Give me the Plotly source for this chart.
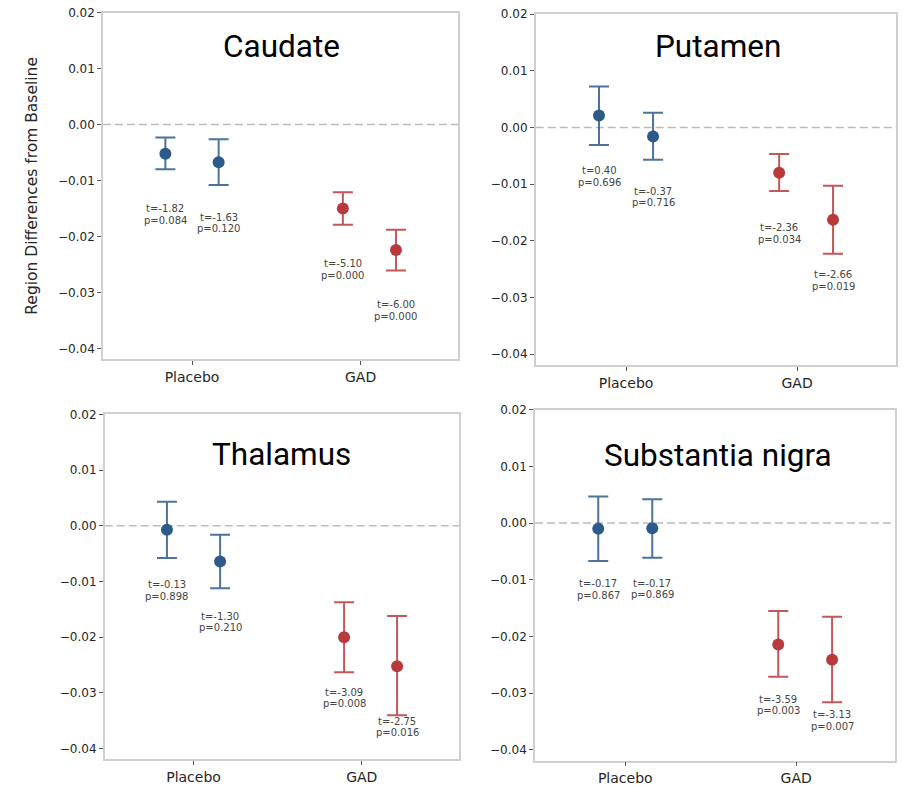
import plotly.graph_objects as go

# ---------------- data ----------------
regions = ["Caudate", "Putamen", "Thalamus", "Substantia nigra"]
groups = ["Placebo", "GAD"]
group_of_point = [0, 0, 1, 1]

caudate_mean = [-0.0052, -0.00675, -0.0150, -0.0224]
caudate_lower = [-0.0080, -0.0108, -0.0179, -0.0261]
caudate_upper = [-0.0023, -0.0026, -0.0121, -0.0188]
caudate_t = ["-1.82", "-1.63", "-5.10", "-6.00"]
caudate_p = ["0.084", "0.120", "0.000", "0.000"]

putamen_mean = [0.0021, -0.0016, -0.0080, -0.0163]
putamen_lower = [-0.0031, -0.0057, -0.0112, -0.0223]
putamen_upper = [0.0072, 0.0026, -0.0047, -0.0103]
putamen_t = ["0.40", "-0.37", "-2.36", "-2.66"]
putamen_p = ["0.696", "0.716", "0.034", "0.019"]

thalamus_mean = [-0.0007, -0.0064, -0.0200, -0.0252]
thalamus_lower = [-0.0058, -0.0112, -0.0263, -0.0340]
thalamus_upper = [0.0043, -0.0016, -0.0137, -0.0162]
thalamus_t = ["-0.13", "-1.30", "-3.09", "-2.75"]
thalamus_p = ["0.898", "0.210", "0.008", "0.016"]

sn_mean = [-0.0010, -0.0009, -0.0214, -0.0241]
sn_lower = [-0.0067, -0.0061, -0.0271, -0.0316]
sn_upper = [0.0047, 0.0042, -0.0155, -0.0165]
sn_t = ["-0.17", "-0.17", "-3.59", "-3.13"]
sn_p = ["0.867", "0.869", "0.003", "0.007"]

ytick_values = [-0.04, -0.03, -0.02, -0.01, 0.00, 0.01, 0.02]
ytick_labels = ["\u22120.04", "\u22120.03", "\u22120.02", "\u22120.01", "0.00", "0.01", "0.02"]
y_axis_title = "Region Differences from Baseline"

panel_data = [
    (caudate_mean, caudate_lower, caudate_upper, caudate_t, caudate_p),
    (putamen_mean, putamen_lower, putamen_upper, putamen_t, putamen_p),
    (thalamus_mean, thalamus_lower, thalamus_upper, thalamus_t, thalamus_p),
    (sn_mean, sn_lower, sn_upper, sn_t, sn_p),
]

# ---------------- layout / style ----------------
W, H = 907, 785
# plot boxes in pixels: left, right, top, bottom
boxes = [
    (103, 458, 12.7, 359),
    (535.7, 896, 14, 365),
    (104.7, 459, 414.3, 759.3),
    (535, 895, 409.7, 760.7),
]
title_px = [(281.7, 47), (718.3, 46.7), (281.7, 454.3), (718.3, 455)]
ytitle_px = (31.7, 186)
dodge = [-0.158, 0.158, -0.105, 0.21]
xrange_ = [-0.528, 1.578]
yrange_ = [-0.0419, 0.02]

group_color = ["#2c5b8a", "#b93a3d"]
err_color = ["rgba(44,91,138,0.85)", "rgba(185,58,61,0.85)"]
tick_font = "DejaVu Sans"

fig = go.Figure()
layout_axes = {}
annotations = []
shapes = []

for i, (region, (mean, lo, up, tv, pv)) in enumerate(zip(regions, panel_data)):
    k = "" if i == 0 else str(i + 1)
    xa, ya = "x" + k, "y" + k
    L, R, T, B = boxes[i]
    for g in range(2):
        idx = [j for j in range(4) if group_of_point[j] == g]
        xs = [group_of_point[j] + dodge[j] for j in idx]
        ys = [mean[j] for j in idx]
        fig.add_trace(go.Scatter(
            x=xs, y=ys, mode="markers", xaxis=xa, yaxis=ya, showlegend=False,
            marker=dict(size=12, color=group_color[g]),
            error_y=dict(type="data", symmetric=False,
                         array=[up[j] - mean[j] for j in idx],
                         arrayminus=[mean[j] - lo[j] for j in idx],
                         color=err_color[g], thickness=2, width=10),
        ))
        for j in idx:
            annotations.append(dict(x=group_of_point[j] + dodge[j], y=mean[j], xref=xa, yref=ya,
                                    text="t=" + tv[j], showarrow=False, yanchor="middle",
                                    yshift=-55, font=dict(family=tick_font, size=10, color="#444444")))
            annotations.append(dict(x=group_of_point[j] + dodge[j], y=mean[j], xref=xa, yref=ya,
                                    text="p=" + pv[j], showarrow=False, yanchor="middle",
                                    yshift=-66.5, font=dict(family=tick_font, size=10, color="#444444")))
    shapes.append(dict(type="line", xref=xa + " domain", yref=ya, x0=0, x1=1, y0=0, y1=0,
                       line=dict(color="#bbbbbb", width=1.5, dash="8px,4px"), layer="below"))
    tx, ty = title_px[i]
    annotations.append(dict(x=tx / W, y=1 - ty / H, xref="paper", yref="paper", text=region,
                            showarrow=False, xanchor="center", yanchor="middle",
                            font=dict(family="Roboto", size=31.5, color="#000000")))
    layout_axes["xaxis" + k] = dict(
        domain=[L / W, R / W], anchor=ya, range=xrange_, tickvals=[0, 1], ticktext=groups,
        showline=True, mirror=True, linecolor="#cfcfcf", linewidth=1.5, showgrid=False,
        zeroline=False, ticks="outside", ticklen=4, tickcolor="#555555", tickwidth=1,
        automargin=False,
        tickfont=dict(family=tick_font, size=14, color="#262626"), fixedrange=True)
    layout_axes["yaxis" + k] = dict(
        domain=[1 - B / H, 1 - T / H], anchor=xa, range=yrange_, tickvals=ytick_values,
        ticktext=ytick_labels, showline=True, mirror=True, linecolor="#cfcfcf", linewidth=1.5,
        showgrid=False, zeroline=False, ticks="outside", ticklen=4, tickcolor="#555555",
        tickwidth=1, automargin=False,
        tickfont=dict(family=tick_font, size=12, color="#262626"), fixedrange=True)

annotations.append(dict(x=ytitle_px[0] / W, y=1 - ytitle_px[1] / H, xref="paper", yref="paper",
                        text=y_axis_title, textangle=-90, showarrow=False,
                        xanchor="center", yanchor="middle",
                        font=dict(family=tick_font, size=15.5, color="#262626")))

fig.update_layout(
    width=W, height=H, margin=dict(l=0, r=0, t=0, b=0),
    paper_bgcolor="white", plot_bgcolor="white",
    annotations=annotations, shapes=shapes, **layout_axes,
)

fig.write_html("out.html", config={"displayModeBar": False},
               post_script="document.body.style.margin='0';")
